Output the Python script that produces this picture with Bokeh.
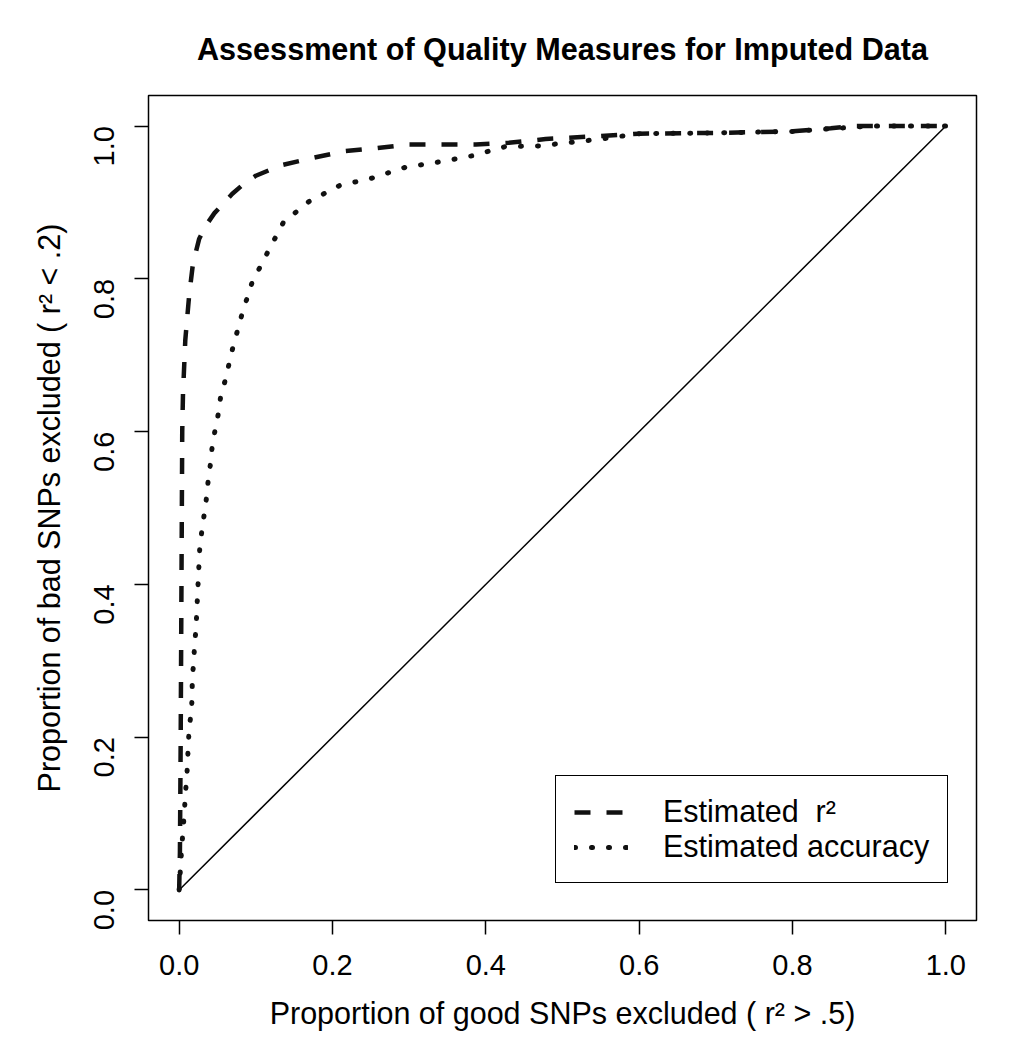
from bokeh.plotting import figure
from bokeh.models import FixedTicker, Legend, LegendItem, Range1d
from bokeh.embed import file_html
from bokeh.resources import INLINE
import math

# ---- data ----
r2_x = [0.0, 0.001, 0.002, 0.003, 0.004, 0.005, 0.008, 0.013, 0.018, 0.026, 0.035, 0.046,
        0.069, 0.085, 0.100, 0.134, 0.173, 0.215, 0.257, 0.300, 0.387, 0.430, 0.478, 0.55,
        0.60, 0.70, 0.80, 0.85, 0.88, 1.0]
r2_y = [0.0, 0.05, 0.20, 0.40, 0.60, 0.65, 0.72, 0.778, 0.82, 0.852, 0.870, 0.886,
        0.911, 0.925, 0.935, 0.949, 0.958, 0.967, 0.971, 0.976, 0.976, 0.978, 0.983, 0.987,
        0.990, 0.991, 0.993, 0.997, 1.0, 1.0]

acc_x = [0.0, 0.003, 0.007, 0.008, 0.010, 0.012, 0.013, 0.016, 0.017, 0.017, 0.019, 0.020,
         0.022, 0.023, 0.025, 0.027, 0.030, 0.033, 0.036, 0.038, 0.041, 0.043, 0.047, 0.051,
         0.054, 0.060, 0.070, 0.082, 0.095, 0.115, 0.136, 0.169, 0.209, 0.252, 0.295, 0.339,
         0.382, 0.425, 0.469, 0.55, 0.60, 0.70, 0.80, 0.90, 1.0]
acc_y = [0.0, 0.05, 0.105, 0.125, 0.148, 0.191, 0.212, 0.234, 0.256, 0.277, 0.298, 0.320,
         0.342, 0.365, 0.408, 0.451, 0.473, 0.494, 0.516, 0.538, 0.559, 0.580, 0.603, 0.623,
         0.645, 0.667, 0.710, 0.754, 0.795, 0.834, 0.874, 0.901, 0.922, 0.932, 0.946, 0.953,
         0.961, 0.973, 0.974, 0.983, 0.990, 0.991, 0.993, 1.0, 1.0]

diag_x = [0.0, 1.0]
diag_y = [0.0, 1.0]

tick_values = [0.0, 0.2, 0.4, 0.6, 0.8, 1.0]
tick_labels = ["0.0", "0.2", "0.4", "0.6", "0.8", "1.0"]

title_text = "Assessment of Quality Measures for Imputed Data"
x_label = "Proportion of good SNPs excluded ( r\u00b2 > .5)"
y_label = "Proportion of bad SNPs excluded ( r\u00b2 < .2)"
series_names = ["Estimated  r\u00b2", "Estimated accuracy"]

FONT = "Liberation Sans"

p = figure(width=1000, height=1042, output_backend="svg", toolbar_location=None,
           x_range=Range1d(-0.04, 1.04), y_range=Range1d(-0.04, 1.04),
           min_border_left=148, min_border_right=24, min_border_top=95, min_border_bottom=122,
           title=title_text)

p.title.text_font = FONT
p.title.text_font_size = "30.6px"
p.title.text_font_style = "bold"
p.title.text_color = "black"
p.title.align = "center"
p.title.standoff = 59

p.outline_line_color = "black"
p.outline_line_width = 1.5
p.outline_line_alpha = 1.0
p.grid.visible = False
p.background_fill_color = "white"
p.border_fill_color = "white"

for ax in (p.xaxis[0], p.yaxis[0]):
    ax.ticker = FixedTicker(ticks=tick_values)
    ax.major_label_overrides = {v: s for v, s in zip(tick_values, tick_labels)}
    ax.axis_line_color = None
    ax.major_tick_out = 14
    ax.major_tick_in = 0
    ax.major_tick_line_color = "black"
    ax.major_tick_line_width = 1.5
    ax.minor_tick_line_color = None
    ax.major_label_text_font = FONT
    ax.major_label_text_font_size = "29px"
    ax.major_label_text_color = "black"
    ax.axis_label_text_font = FONT
    ax.axis_label_text_font_size = "30.5px"
    ax.axis_label_text_font_style = "normal"
    ax.axis_label_text_color = "black"

p.xaxis.axis_label = x_label
p.yaxis.axis_label = y_label
p.xaxis.major_label_standoff = 20
p.xaxis.axis_label_standoff = 18
p.yaxis.major_label_orientation = math.pi / 2
p.yaxis.major_label_standoff = 30
p.yaxis.axis_label_standoff = 16

r_diag = p.line(diag_x, diag_y, line_color="black", line_width=1.5)
r_r2 = p.line(r2_x, r2_y, line_color="#111111", line_width=4.5, line_dash="16 16")
r_acc = p.line(acc_x, acc_y, line_color="#111111", line_width=5, line_dash="1 16",
               line_cap="round")

legend = Legend(items=[LegendItem(label=series_names[0], renderers=[r_r2]),
                       LegendItem(label=series_names[1], renderers=[r_acc])],
                location=(407, 37))
legend.label_text_font = FONT
legend.label_text_font_size = "30.5px"
legend.label_text_color = "black"
legend.glyph_width = 54
legend.glyph_height = 30
legend.label_height = 30
legend.label_standoff = 35
legend.padding = 18
legend.spacing = 0
legend.margin = 0
legend.border_line_color = "black"
legend.border_line_width = 1.5
legend.border_line_alpha = 1.0
legend.background_fill_alpha = 1.0
p.add_layout(legend, "center")

open("out.html", "w").write(file_html(p, INLINE))
